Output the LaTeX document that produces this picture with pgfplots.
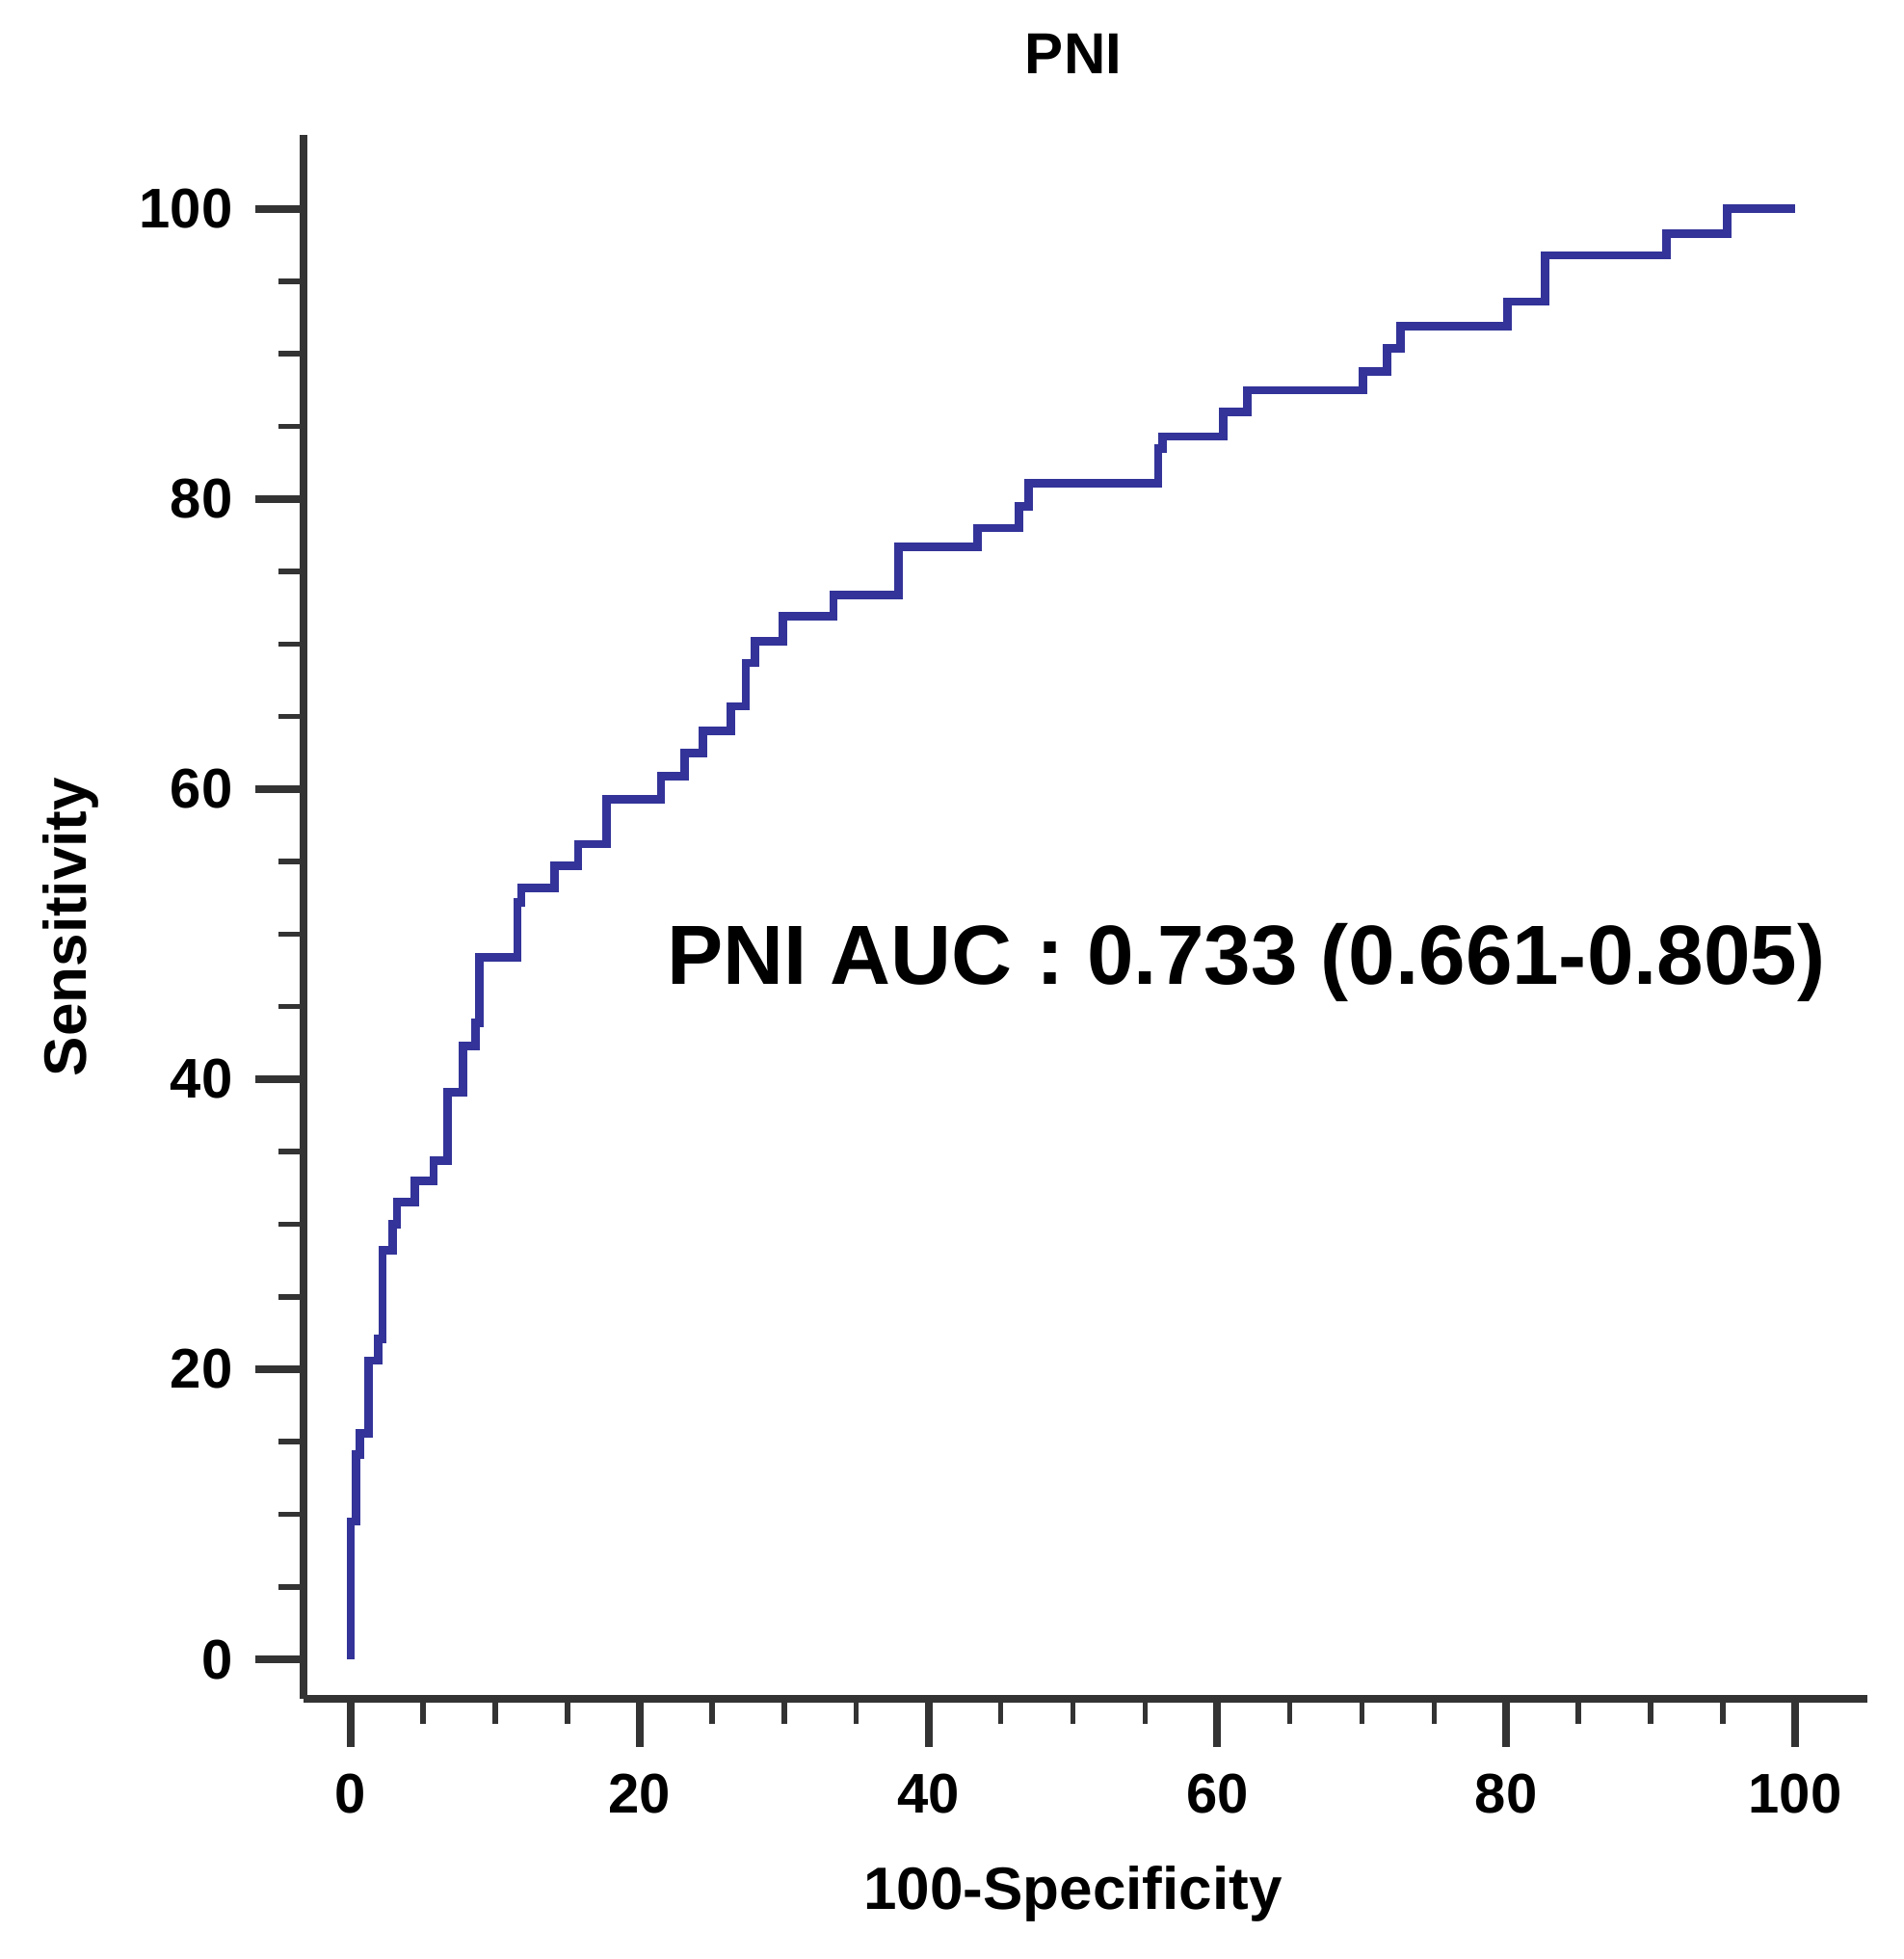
\documentclass[border=0pt]{standalone}
\usepackage{pgfplots}
\pgfplotsset{compat=1.18}
\usepackage{fontspec}
\setmainfont{Liberation Sans}
\definecolor{roc}{RGB}{51,51,153}
\definecolor{axgray}{RGB}{51,51,51}
\begin{document}
\begin{tikzpicture}
\path[use as bounding box] (0,0) rectangle (493.75pt,508.25pt);
\begin{axis}[
  at={(78.75pt,67.5pt)}, anchor=south west,
  scale only axis, width=405.75pt, height=405.75pt,
  xmin=-3.27, xmax=105.0, ymin=-2.72, ymax=105.1,
  axis x line*=bottom, axis y line*=left,
  axis line style={-, line width=2.1pt, color=axgray},
  xtick={0,20,40,60,80,100}, ytick={0,20,40,60,80,100},
  minor xtick={5,10,15,25,30,35,45,50,55,65,70,75,85,90,95},
  minor ytick={5,10,15,25,30,35,45,50,55,65,70,75,85,90,95},
  tick align=outside,
  major tick length=12.5pt, minor tick length=6.5pt,
  major tick style={line width=2pt, color=axgray},
  minor tick style={line width=1.4pt, color=axgray},
  /pgf/number format/assume math mode=true,
  tick label style={font=\bfseries\fontsize{14.5}{14.5}\selectfont, text=black},
  yticklabel style={inner sep=0pt, xshift=-5.7pt},
  xticklabel style={inner sep=0pt, yshift=-6.75pt},
  xlabel={100-Specificity},
  xlabel style={at={(axis description cs:0.492,0)}, anchor=base, yshift=-54.5pt, font=\bfseries\fontsize{15.5}{15.5}\selectfont},
  ylabel={Sensitivity},
  ylabel style={at={(axis description cs:0,0.4935)}, anchor=base, yshift=56.5pt, font=\bfseries\fontsize{15.5}{15.5}\selectfont},
  title={PNI},
  title style={at={(axis description cs:0.4923,1)}, anchor=base, yshift=9.75pt, font=\bfseries\fontsize{15}{15}\selectfont},
]
\addplot[roc, line width=2.2pt, line join=miter, mark=none] coordinates {
(0,0) (0,9.5) (0.35,9.5) (0.35,14.1) (0.62,14.1) (0.62,15.6) (1.25,15.6) (1.25,20.6)
(1.9,20.6) (1.9,22.1) (2.2,22.1) (2.2,28.2) (2.9,28.2) (2.9,30.0) (3.2,30.0) (3.2,31.5)
(4.46,31.5) (4.46,33.0) (5.74,33.0) (5.74,34.4) (6.72,34.4) (6.72,39.1) (7.77,39.1) (7.77,42.3)
(8.65,42.3) (8.65,43.9) (8.93,43.9) (8.93,48.4) (11.54,48.4) (11.54,52.2) (11.8,52.2) (11.8,53.2)
(14.13,53.2) (14.13,54.7) (15.74,54.7) (15.74,56.2) (17.7,56.2) (17.7,59.3) (21.48,59.3) (21.48,60.9)
(23.1,60.9) (23.1,62.5) (24.4,62.5) (24.4,64.0) (26.3,64.0) (26.3,65.7) (27.35,65.7) (27.35,68.7)
(27.97,68.7) (27.97,70.2) (29.9,70.2) (29.9,71.9) (33.42,71.9) (33.42,73.4) (37.9,73.4) (37.9,76.7)
(43.4,76.7) (43.4,78.0) (46.25,78.0) (46.25,79.5) (46.95,79.5) (46.95,81.1) (55.9,81.1) (55.9,83.5)
(56.2,83.5) (56.2,84.3) (60.4,84.3) (60.4,86.0) (62.06,86.0) (62.06,87.5) (70.1,87.5) (70.1,88.8)
(71.75,88.8) (71.75,90.4) (72.7,90.4) (72.7,91.9) (80.1,91.9) (80.1,93.6) (82.7,93.6) (82.7,96.8)
(91.1,96.8) (91.1,98.3) (95.3,98.3) (95.3,100) (100,100)
};
\node[anchor=base, font=\bfseries\fontsize{21.8}{21.8}\selectfont, inner sep=0pt] at (axis cs:62.0,46.55) {PNI AUC : 0.733 (0.661-0.805)};
\end{axis}
\end{tikzpicture}
\end{document}
